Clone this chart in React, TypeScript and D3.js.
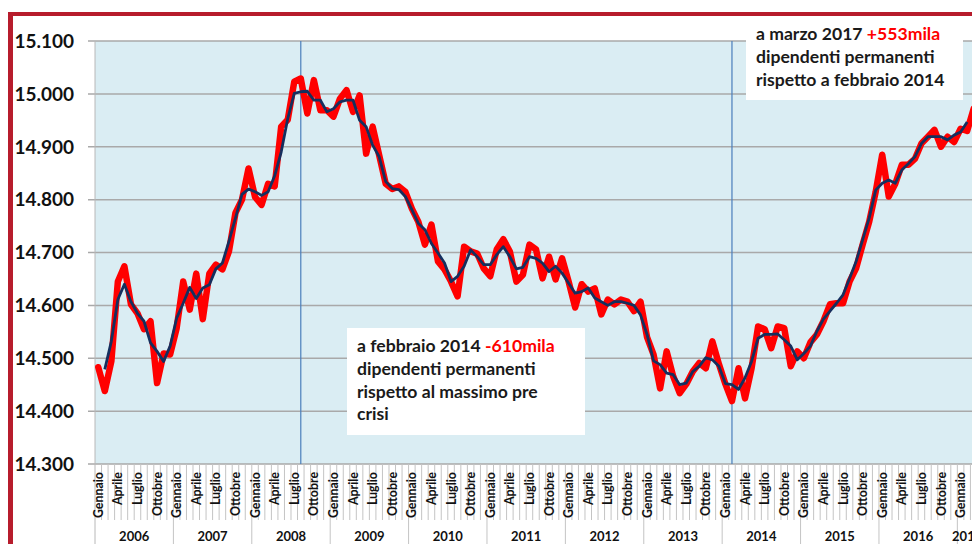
import React from "react";
import * as d3 from "d3";

// dati mensili, migliaia di dipendenti permanenti, gennaio 2006 - marzo 2017
const monthNames = ["Gennaio", "Febbraio", "Marzo", "Aprile", "Maggio", "Giugno", "Luglio", "Agosto", "Settembre", "Ottobre", "Novembre", "Dicembre"];
const years = [2006, 2007, 2008, 2009, 2010, 2011, 2012, 2013, 2014, 2015, 2016, 2017];

const permanenti = [
    14483, 14438, 14494, 14645, 14674, 14602, 14585, 14555, 14570, 14453, 14509, 14507,
    14557, 14645, 14592, 14660, 14574, 14660, 14677, 14668, 14702, 14775, 14800, 14859,
    14805, 14790, 14830, 14825, 14938, 14951, 15023, 15029, 14963, 15026, 14969, 14969,
    14957, 14991, 15007, 14966, 14997, 14887, 14938, 14884, 14830, 14820, 14825, 14815,
    14783, 14758, 14715, 14753, 14683, 14668, 14645, 14617, 14711, 14702, 14698, 14670,
    14655, 14706, 14725, 14702, 14645, 14658, 14715, 14706, 14651, 14692, 14649, 14689,
    14645, 14596, 14640, 14626, 14632, 14583, 14611, 14602, 14611, 14607, 14589, 14607,
    14540, 14507, 14443, 14513, 14466, 14434, 14451, 14475, 14491, 14481, 14532, 14489,
    14451, 14419, 14481, 14424, 14481, 14560, 14555, 14519, 14560, 14557, 14485, 14513,
    14500, 14530, 14545, 14570, 14602, 14604, 14604, 14645, 14670, 14715, 14758, 14815,
    14885, 14806, 14830, 14866, 14866, 14877, 14906, 14919, 14932, 14900, 14919, 14909,
    14934, 14930, 14972,
];

const mediaMobile = [
    null, 14479, 14532, 14611, 14640, 14607, 14585, 14570, 14529, 14513, 14494, 14523,
    14576, 14604, 14634, 14613, 14633, 14639, 14669, 14680, 14721, 14765, 14810, 14820,
    14815, 14808, 14815, 14845, 14890, 14953, 15001, 15004, 15005, 14988, 14988, 14966,
    14972, 14985, 14988, 14988, 14950, 14938, 14903, 14881, 14834, 14821, 14819, 14806,
    14781, 14755, 14743, 14717, 14699, 14680, 14645, 14655, 14674, 14705, 14692, 14677,
    14677, 14696, 14711, 14692, 14669, 14672, 14692, 14689, 14680, 14664, 14674, 14661,
    14642, 14623, 14626, 14633, 14614, 14607, 14600, 14607, 14607, 14604, 14600, 14582,
    14545, 14495, 14488, 14472, 14469, 14450, 14453, 14475, 14485, 14501, 14497, 14485,
    14452, 14450, 14441, 14463, 14494, 14538, 14545, 14545, 14546, 14535, 14523, 14497,
    14509, 14523, 14551, 14574, 14589, 14604, 14620, 14651, 14683, 14724, 14765, 14818,
    14831, 14837, 14831, 14856, 14868, 14881, 14906, 14919, 14919, 14919, 14913, 14922,
    14928, 14947, null,
];

const yTicks = [14300, 14400, 14500, 14600, 14700, 14800, 14900, 15000, 15100];
const markerMonths = [31, 97]; // agosto 2008, febbraio 2014

const noteCrisi = [["a febbraio 2014 ", "-610mila"], ["dipendenti permanenti"], ["rispetto al massimo pre"], ["crisi"]];
const noteRipresa = [["a marzo 2017 ", "+553mila"], ["dipendenti permanenti"], ["rispetto a febbraio 2014"]];

const W = 972, H = 544;
const FONT = "Lato, 'Open Sans', sans-serif";

const itFormat = d3.formatLocale({ decimal: ",", thousands: ".", grouping: [3], currency: ["€", ""] }).format(",");

const Note = ({ x, y, w, h, lines }) => (
    <g>
        <rect x={x} y={y} width={w} height={h} fill="#ffffff" />
        <text x={x + 10} y={y + 24} fontFamily={FONT} fontWeight={700} fontSize={17.6} fill="#1a1a1a">
            {lines.map((l, i) => (
                <tspan key={i} x={x + 10} dy={i === 0 ? 0 : 22.8}>
                    {l[0]}
                    {l[1] && <tspan fill="#ff0000">{l[1]}</tspan>}
                </tspan>
            ))}
        </text>
    </g>
);

export default function App() {
    const n = permanenti.length;
    const x = d3.scaleBand().domain(d3.range(n)).range([95, 95 + n * 6.533]);
    const bw = x.bandwidth();
    const cx = (i) => x(i) + bw / 2;
    const y = d3.scaleLinear().domain([14300, 15100]).range([464, 41]);

    const line = d3.line().defined((d) => d != null).x((d, i) => cx(i)).y((d) => y(d));

    const plotRight = W;
    const axisY = y(14300);

    return (
        <svg width={W} height={H} style={{ position: "fixed", left: 0, top: 0, background: "#fff" }}>
            {/* cornice rossa */}
            <rect x={8} y={12} width={W} height={4} fill="#b71c2c" />
            <rect x={8} y={12} width={5} height={H} fill="#b71c2c" />

            {/* area del grafico */}
            <rect x={95} y={41} width={plotRight - 95} height={axisY - 41} fill="#daedf3" />

            {yTicks.map((t) => (
                <g key={t}>
                    <line x1={88} x2={plotRight} y1={y(t)} y2={y(t)} stroke="#a9a9a9" strokeWidth={1.5} />
                    <text x={74} y={y(t)} dy="0.36em" textAnchor="end" fontFamily={FONT} fontWeight={700} fontSize={19} fill="#111">
                        {itFormat(t)}
                    </text>
                </g>
            ))}
            <line x1={95} x2={95} y1={41} y2={H} stroke="#b8b8b8" strokeWidth={1} />

            {/* asse mesi */}
            {d3.range(n).map((i) => (
                <line key={i} x1={x(i) + bw} x2={x(i) + bw} y1={axisY} y2={(i + 1) % 12 === 0 ? H : 520} stroke="#c4c4c4" strokeWidth={1} />
            ))}
            {d3.range(n).filter((i) => i % 3 === 0).map((i) => (
                <text key={i} transform={`translate(${cx(i) + 4.5},${axisY + 8}) rotate(-90)`} textAnchor="end"
                    fontFamily={FONT} fontWeight={700} fontSize={12.4} fill="#111">
                    {monthNames[i % 12]}
                </text>
            ))}
            {years.map((yr, k) => {
                const first = k * 12;
                const last = Math.min(n - 1, first + 11);
                const mid = (x(first) + x(last) + bw) / 2;
                return (
                    <text key={yr} x={mid} y={541} textAnchor="middle" fontFamily={FONT} fontWeight={700} fontSize={13} fill="#111">
                        {yr}
                    </text>
                );
            })}

            {/* linee verticali di riferimento */}
            {markerMonths.map((m) => (
                <line key={m} x1={cx(m)} x2={cx(m)} y1={41} y2={axisY} stroke="#4a7ebb" strokeWidth={1.2} />
            ))}

            <path d={line(permanenti)} fill="none" stroke="#ff0000" strokeWidth={6.5} strokeLinejoin="round" strokeLinecap="round" />
            <path d={line(mediaMobile)} fill="none" stroke="#152f5e" strokeWidth={2.8} strokeLinejoin="round" />

            <Note x={347} y={328} w={238} h={107} lines={noteCrisi} />
            <Note x={746} y={16} w={217} h={84} lines={noteRipresa} />
        </svg>
    );
}
